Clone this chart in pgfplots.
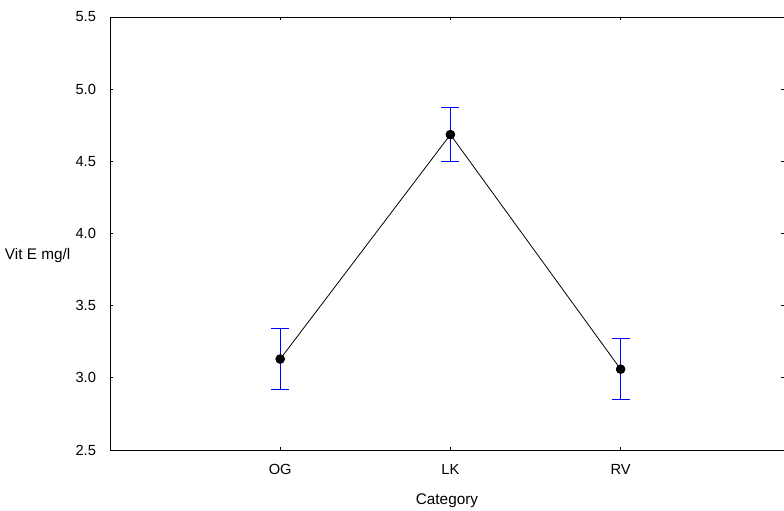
\documentclass[border=0pt]{standalone}
\usepackage{fontspec}
\setmainfont{Liberation Sans}
\usepackage{pgfplots}
\pgfplotsset{compat=1.18}
\begin{document}
\begin{tikzpicture}
\begin{axis}[
  scale only axis,
  width=505.5pt, height=324.75pt,
  xmin=-1, xmax=2.96,
  ymin=2.5, ymax=5.5,
  xtick={0,1,2}, xticklabels={OG,LK,RV},
  ytick={2.5,3.0,3.5,4.0,4.5,5.0,5.5},
  yticklabel style={/pgf/number format/fixed,/pgf/number format/fixed zerofill,/pgf/number format/precision=1},
  /pgf/number format/assume math mode=true,
  tick align=inside,
  major tick length=2.5pt,
  font=\fontsize{11}{13}\selectfont,
  tick label style={font=\fontsize{11}{13}\selectfont},
  axis line style={line width=0.7pt},
  tick style={black, line width=0.6pt},
  xlabel={Category},
  every axis x label/.style={at={(axis description cs:0.5,0)}, anchor=center, yshift=-38pt, font=\fontsize{11.5}{14}\selectfont},
  ylabel={Vit E mg/l},
  every axis y label/.style={at={(axis description cs:0,0.45)}, anchor=east, xshift=-26.25pt, font=\fontsize{11.5}{14}\selectfont},
  xticklabel style={anchor=center, yshift=-14.25pt},
  yticklabel style={xshift=-7pt},
  clip=false,
]
\addplot[blue, line width=0.7pt, mark=none, draw=none,
  error bars/.cd, y dir=both, y explicit,
  error bar style={blue, line width=0.7pt},
  error mark options={rotate=90, blue, line width=0.7pt, mark size=6.75pt}]
  coordinates {
    (0,3.13) +- (0,0.21)
    (1,4.685) +- (0,0.185)
    (2,3.06) +- (0,0.21)
  };
\addplot[black, line width=0.6pt, mark=*, mark size=3.3pt, mark options={fill=black}]
  coordinates {
    (0,3.13)
    (1,4.685)
    (2,3.06)
  };
\end{axis}
\pgfresetboundingbox
\path (current axis.south west) ++(-82.5pt,-45.75pt);
\path (current axis.north east) ++(0,12.75pt);
\end{tikzpicture}
\end{document}
